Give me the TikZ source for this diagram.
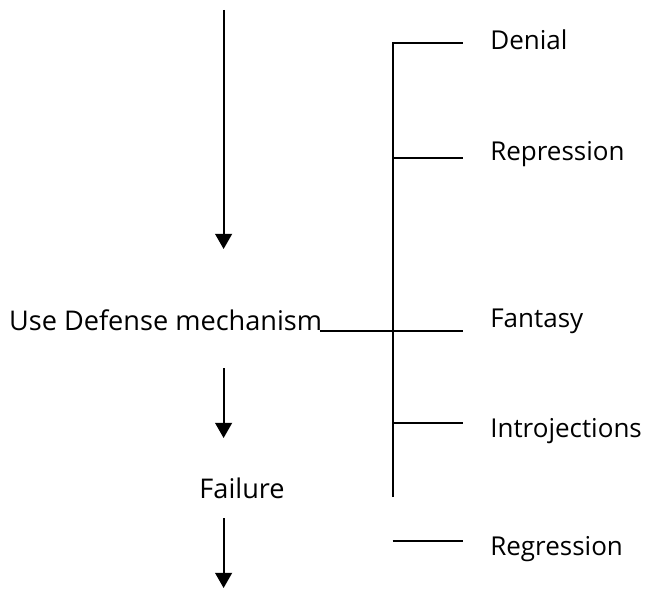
\documentclass[tikz,border=0pt]{standalone}
\usepackage{fontspec}
\setmainfont{Open Sans}
\usetikzlibrary{arrows.meta}
\tikzset{
    lbl/.style={font=\fontsize{19.3pt}{23pt}\selectfont, inner sep=0pt, anchor=base west, text=black},
    tag/.style={lbl, font=\fontsize{18.5pt}{22pt}\selectfont},
    flow/.style={line width=1.5pt, -{Triangle[width=0.42cm, length=0.38cm]}},
    branch/.style={line width=1.4pt},
}
\begin{document}
\begin{tikzpicture}
\useasboundingbox (0,0) rectangle (16.15,14.75);

% Flujo principal
\coordinate (top) at (5.59,14.5);
\coordinate (topend) at (5.59,8.525);
\draw [flow] (top) -- (topend);

\node [lbl] (use) at (0.22,6.5) {Use Defense mechanism};

\coordinate (mid) at (5.59,5.55);
\coordinate (midend) at (5.59,3.8);
\draw [flow] (mid) -- (midend);

\node [lbl] (failure) at (4.98,2.3) {Failure};

\coordinate (low) at (5.59,1.8);
\coordinate (lowend) at (5.59,0.05);
\draw [flow] (low) -- (lowend);

% Corchete
\coordinate (btop) at (9.818,13.683);
\coordinate (bbot) at (9.818,2.325);
\draw [branch] (bbot) -- (btop) -- (11.575,13.683);
\draw [branch] (9.818,10.793) -- (11.575,10.793);
\draw [branch] (9.818,4.168) -- (11.575,4.168);
\coordinate (fend) at (11.575,6.475);
\draw [branch] ([xshift=-2pt]use.base east |- fend) -- (fend);
\draw [branch] (9.818,1.225) -- (11.575,1.225);

% Etiquetas
\node [tag] (denial) at (12.25,13.518) {Denial};
\node [tag] (repression) at (12.25,10.733) {Repression};
\node [tag] (fantasy) at (12.25,6.558) {Fantasy};
\node [tag] (introjections) at (12.25,3.818) {Introjections};
\node [tag] (regression) at (12.25,0.875) {Regression};
\end{tikzpicture}
\end{document}
